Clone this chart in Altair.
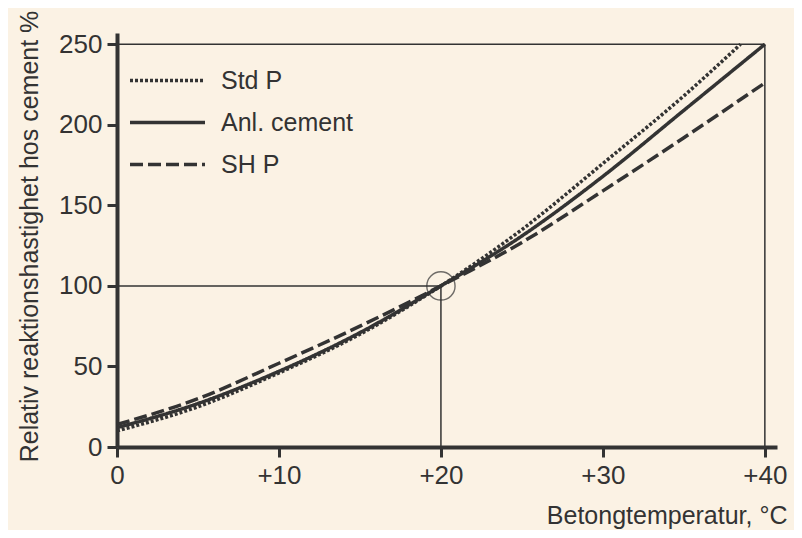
import altair as alt
import pandas as pd

# ---- data ----
series_names = ["Std P", "Anl. cement", "SH P"]

std_t = [0, 5, 10, 15, 20, 25, 30, 35, 38.5]
std_v = [10, 25, 46, 70, 100, 135, 176, 218, 250]

anl_t = [0, 5, 10, 15, 20, 25, 30, 35, 40]
anl_v = [12, 27, 47, 71, 100, 131, 168, 209, 250]

shp_t = [0, 5, 10, 15, 20, 25, 30, 35, 40]
shp_v = [14, 30, 52, 75, 100, 127, 159, 192, 226]

x_ticks = [0, 10, 20, 30, 40]
y_ticks = [0, 50, 100, 150, 200, 250]

# guide lines (data units)
ref_x = [0, 40, 0, 20]
ref_x2 = [40, 40, 20, 20]
ref_y = [250, 0, 100, 0]
ref_y2 = [250, 250, 100, 100]

marker_x = [20]
marker_y = [100]

INK = "#333333"
BG = "#FBF2E4"
FONT = "Liberation Sans"

rows = []
for name, ts, vs in zip(series_names, [std_t, anl_t, shp_t], [std_v, anl_v, shp_v]):
    for t, v in zip(ts, vs):
        rows.append({"serie": name, "t": t, "v": v})
lines_df = pd.DataFrame(rows)

ref_df = pd.DataFrame({"x": ref_x, "x2": ref_x2, "y": ref_y, "y2": ref_y2})
mark_df = pd.DataFrame({"x": marker_x, "y": marker_y})

xscale = alt.Scale(domain=[0, 40.75], nice=False, zero=False)
yscale = alt.Scale(domain=[0, 257], nice=False, zero=False)

x_axis = alt.Axis(
    values=x_ticks,
    labelExpr="datum.value > 0 ? '+' + datum.label : datum.label",
    title="Betongtemperatur, °C",
    titleAnchor="end",
    titleAlign="right",
    titleBaseline="alphabetic",
    titleX=670,
    titleY=76,
    grid=False,
    domainWidth=4,
    domainColor=INK,
    tickColor=INK,
    tickWidth=3,
    tickSize=10,
    labelPadding=5,
    labelFontSize=26,
    labelColor=INK,
    labelFont=FONT,
    titleFont=FONT,
    titleFontSize=25,
    titleFontWeight="normal",
    titleColor=INK,
    labelFlush=False,
)

y_axis = alt.Axis(
    values=y_ticks,
    title="Relativ reaktionshastighet hos cement %",
    titleAngle=-90,
    titleAlign="center",
    titleBaseline="middle",
    titleX=-88,
    titleY=203,
    grid=False,
    domainWidth=4,
    domainColor=INK,
    tickColor=INK,
    tickWidth=3,
    tickSize=10,
    labelPadding=5,
    labelFontSize=26,
    labelColor=INK,
    labelFont=FONT,
    titleFont=FONT,
    titleFontSize=25,
    titleFontWeight="normal",
    titleColor=INK,
    labelFlush=False,
)

refs = alt.Chart(ref_df).mark_rule(color=INK, strokeWidth=1.5).encode(
    x=alt.X("x:Q", scale=xscale, axis=x_axis),
    x2="x2:Q",
    y=alt.Y("y:Q", scale=yscale, axis=y_axis),
    y2="y2:Q",
)

circle = alt.Chart(mark_df).mark_point(
    shape="circle", size=800, filled=False, color=INK, strokeWidth=1.4
).encode(x=alt.X("x:Q", scale=xscale), y=alt.Y("y:Q", scale=yscale))

lines = alt.Chart(lines_df).mark_line(
    color=INK, strokeWidth=3.5, interpolate="monotone"
).encode(
    x=alt.X("t:Q", scale=xscale),
    y=alt.Y("v:Q", scale=yscale),
    strokeDash=alt.StrokeDash(
        "serie:N",
        sort=series_names,
        scale=alt.Scale(domain=series_names, range=[[3, 2], [1, 0], [13, 5]]),
        legend=alt.Legend(
            title=None,
            orient="none",
            legendX=11,
            legendY=28,
            symbolType="stroke",
            symbolSize=5625,
            symbolStrokeWidth=3.5,
            symbolStrokeColor=INK,
            labelFontSize=25,
            labelFont=FONT,
            labelColor=INK,
            labelOffset=14,
            clipHeight=39,
            rowPadding=3,
        ),
    ),
)

chart = (
    alt.layer(refs, circle, lines)
    .properties(
        width=660,
        height=414,
        padding={"left": 109, "top": 25, "right": 17, "bottom": 83},
        autosize=alt.AutoSizeParams(type="none"),
        background=BG,
    )
    .configure_view(stroke=None)
)

chart.save("out.html", embed_options={"renderer": "svg", "actions": False})
